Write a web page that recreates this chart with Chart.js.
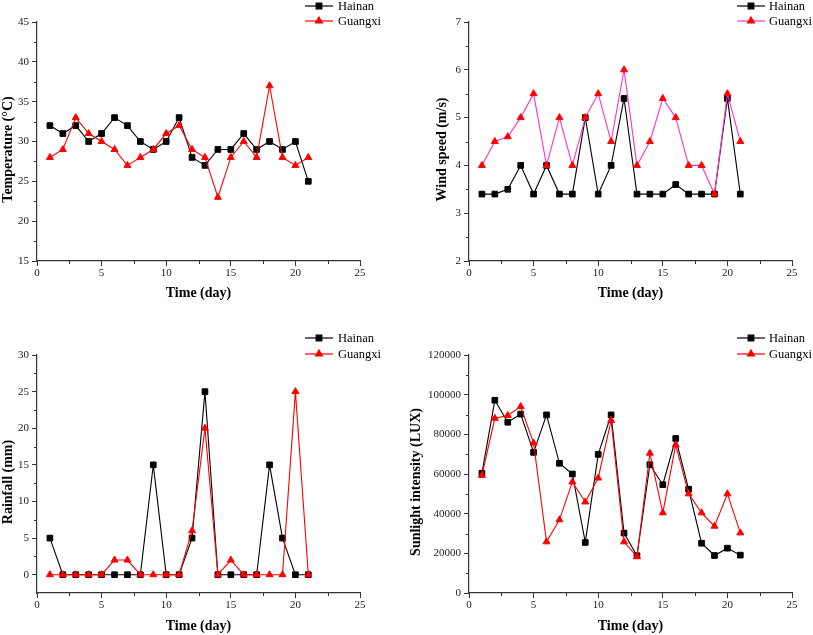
<!DOCTYPE html>
<html>
<head>
<meta charset="utf-8">
<script src="https://cdn.jsdelivr.net/npm/chart.js@4.4.0/dist/chart.umd.min.js"></script>
<style>
  html, body { margin: 0; padding: 0; background: #fff; }
  body { width: 813px; height: 635px; position: relative; overflow: hidden; }
  canvas { position: absolute; }
</style>
</head>
<body>
<canvas id="cTemp"  width="400" height="302" style="left:0;top:0"></canvas>
<canvas id="cWind"  width="379" height="302" style="left:434px;top:0"></canvas>
<canvas id="cRain"  width="400" height="325" style="left:0;top:310px"></canvas>
<canvas id="cSun"   width="405" height="325" style="left:408px;top:310px"></canvas>
<script>
// ---- datos ----
const DIAS = [1, 2, 3, 4, 5, 6, 7, 8, 9, 10, 11, 12, 13, 14, 15, 16, 17, 18, 19, 20, 21];

const TEMP_HAINAN  = [32, 31, 32, 30, 31, 33, 32, 30, 29, 30, 33, 28, 27, 29, 29, 31, 29, 30, 29, 30, 25];
const TEMP_GUANGXI = [28, 29, 33, 31, 30, 29, 27, 28, 29, 31, 32, 29, 28, 23, 28, 30, 28, 37, 28, 27, 28];

const WIND_HAINAN  = [3.4, 3.4, 3.5, 4, 3.4, 4, 3.4, 3.4, 5, 3.4, 4, 5.4, 3.4, 3.4, 3.4, 3.6, 3.4, 3.4, 3.4, 5.4, 3.4];
const WIND_GUANGXI = [4, 4.5, 4.6, 5, 5.5, 4, 5, 4, 5, 5.5, 4.5, 6, 4, 4.5, 5.4, 5, 4, 4, 3.4, 5.5, 4.5];

const RAIN_HAINAN  = [5, 0, 0, 0, 0, 0, 0, 0, 15, 0, 0, 5, 25, 0, 0, 0, 0, 15, 5, 0, 0];
const RAIN_GUANGXI = [0, 0, 0, 0, 0, 2, 2, 0, 0, 0, 0, 6, 20, 0, 2, 0, 0, 0, 0, 25, 0];

const SUN_HAINAN  = [60300, 97200, 86100, 90200, 70900, 89800, 65400, 60000, 25500, 69900, 89800,
                     30200, 18800, 64700, 54600, 77900, 52300, 25100, 18900, 22600, 19100];
const SUN_GUANGXI = [59300, 88100, 89500, 94000, 75600, 25800, 36900, 56000, 45900, 58000, 87000,
                     25800, 18300, 70500, 40400, 74700, 50000, 40400, 33700, 50000, 30300];

const SERIES = ["Hainan", "Guangxi"];

// ---- estilo ----
const FONT   = "'Liberation Serif', 'Times New Roman', serif";
const AXIS   = "#333333";
const NEGRO  = "#000000";
const ROJO   = "#ff0000";
const ROSA   = "#ff33cc";

/** Ticks menores a mitad de camino entre ticks mayores */
const minorTicks = {
  id: "minorTicks",
  afterDraw(chart) {
    const { ctx, scales: { x, y } } = chart;
    ctx.save();
    ctx.strokeStyle = AXIS;
    ctx.lineWidth = 1;
    ctx.beginPath();
    for (let i = 0; i < x.ticks.length - 1; i++) {
      const px = Math.round(x.getPixelForValue((x.ticks[i].value + x.ticks[i + 1].value) / 2)) + 0.5;
      ctx.moveTo(px, x.top); ctx.lineTo(px, x.top + 3);
    }
    for (let i = 0; i < y.ticks.length - 1; i++) {
      const py = Math.round(y.getPixelForValue((y.ticks[i].value + y.ticks[i + 1].value) / 2)) + 0.5;
      ctx.moveTo(y.right, py); ctx.lineTo(y.right - 3, py);
    }
    ctx.stroke();
    ctx.restore();
  }
};

/** Leyenda tipo Origin: linea + marcador + texto */
const legendBox = {
  id: "legendBox",
  afterDraw(chart, args, opts) {
    const { ctx } = chart;
    ctx.save();
    chart.data.datasets.forEach((ds, i) => {
      const y = opts.rows[i];
      ctx.strokeStyle = ds.borderColor;
      ctx.lineWidth = 1.2;
      ctx.beginPath();
      ctx.moveTo(opts.x0, y); ctx.lineTo(opts.x1, y);
      ctx.stroke();
      ctx.fillStyle = ds.pointBackgroundColor;
      ctx.strokeStyle = ds.pointBorderColor;
      Chart.helpers.drawPoint(ctx, { pointStyle: ds.pointStyle, radius: 4, rotation: 0, borderWidth: 1 },
                              (opts.x0 + opts.x1) / 2, y);
      ctx.fillStyle = NEGRO;
      ctx.font = `12.5px ${FONT}`;
      ctx.textBaseline = "middle";
      ctx.fillText(ds.label, opts.tx, y + 0.5);
    });
    ctx.restore();
  }
};

/** Titulo del eje Y (girado), algo por debajo del centro como en el original */
const yTitle = {
  id: "yTitle",
  afterDraw(chart, args, opts) {
    const { ctx, chartArea } = chart;
    ctx.save();
    ctx.translate(opts.x, (chartArea.top + chartArea.bottom) / 2 + 8);
    ctx.rotate(-Math.PI / 2);
    ctx.font = `bold 14px ${FONT}`;
    ctx.fillStyle = NEGRO;
    ctx.textAlign = "center";
    ctx.textBaseline = "middle";
    ctx.fillText(opts.text, 0, 0);
    ctx.restore();
  }
};

function toXY(valores) {
  return DIAS.map((d, i) => ({ x: d, y: valores[i] }));
}

function serie(label, valores, color, estilo, orden, colorLinea) {
  return {
    label,
    data: toXY(valores),
    borderColor: colorLinea || color,
    borderWidth: 1.1,
    pointStyle: estilo,
    pointRadius: 4,
    pointBackgroundColor: color,
    pointBorderColor: color,
    pointBorderWidth: 1,
    order: orden,
    tension: 0
  };
}

/**
 * Crea un panel.
 * cfg: { id, hainan, guangxi, rosa, yMin, yMax, yStep, titulo, yW, padTop, padRight, xH, leg }
 */
function crearPanel(cfg) {
  const canvas = document.getElementById(cfg.id);
  return new Chart(canvas, {
    type: "line",
    data: {
      datasets: [
        serie(SERIES[0], cfg.hainan, NEGRO, "rect", 1),
        serie(SERIES[1], cfg.guangxi, ROJO, "triangle", 0, cfg.rosa ? ROSA : ROJO)
      ]
    },
    options: {
      responsive: false,
      animation: false,
      events: [],
      layout: { padding: { top: cfg.padTop, right: cfg.padRight, left: 0, bottom: 0 } },
      plugins: {
        legend: { display: false },
        tooltip: { enabled: false },
        legendBox: cfg.leg,
        yTitle: { text: cfg.titulo, x: 8 }
      },
      scales: {
        x: {
          type: "linear",
          min: 0, max: 25,
          afterFit: s => { s.height = cfg.xH; },
          border: { color: AXIS, width: 1.2 },
          grid: { drawOnChartArea: false, tickLength: 5, tickColor: AXIS, tickWidth: 1 },
          ticks: { stepSize: 5, padding: 1, color: "#222", font: { family: FONT, size: 11 }, maxRotation: 0 },
          title: {
            display: true, text: "Time (day)", color: NEGRO,
            font: { family: FONT, size: 14, weight: "bold", lineHeight: 1.2 },
            padding: { top: 0, bottom: 0 }
          }
        },
        y: {
          type: "linear",
          min: cfg.yMin, max: cfg.yMax,
          afterFit: s => { s.width = cfg.yW; },
          border: { color: AXIS, width: 1.2 },
          grid: { drawOnChartArea: false, tickLength: 5, tickColor: AXIS, tickWidth: 1 },
          ticks: {
            stepSize: cfg.yStep, includeBounds: false, padding: 3, color: "#222",
            font: { family: FONT, size: 11 },
            callback: v => String(v)
          }
        }
      }
    },
    plugins: [minorTicks, legendBox, yTitle]
  });
}

crearPanel({
  id: "cTemp", hainan: TEMP_HAINAN, guangxi: TEMP_GUANGXI,
  yMin: 15, yMax: 45, yStep: 5, titulo: "Temperature (\u00B0C)",
  yW: 37, padTop: 22, padRight: 40, xH: 41,
  leg: { x0: 305, x1: 333, tx: 338, rows: [6, 21] }
});

crearPanel({
  id: "cWind", hainan: WIND_HAINAN, guangxi: WIND_GUANGXI, rosa: true,
  yMin: 2, yMax: 7, yStep: 1, titulo: "Wind speed (m/s)",
  yW: 35, padTop: 22, padRight: 21, xH: 41,
  leg: { x0: 303, x1: 331, tx: 335, rows: [6, 21] }
});

crearPanel({
  id: "cRain", hainan: RAIN_HAINAN, guangxi: RAIN_GUANGXI,
  yMin: -2.5, yMax: 30, yStep: 5, titulo: "Rainfall (mm)",
  yW: 37, padTop: 45, padRight: 40, xH: 42,
  leg: { x0: 305, x1: 333, tx: 338, rows: [28, 44] }
});

crearPanel({
  id: "cSun", hainan: SUN_HAINAN, guangxi: SUN_GUANGXI,
  yMin: 0, yMax: 120000, yStep: 20000, titulo: "Sunlight intensity (LUX)",
  yW: 61, padTop: 45, padRight: 21, xH: 42,
  leg: { x0: 329, x1: 357, tx: 361, rows: [28, 44] }
});
</script>
</body>
</html>
